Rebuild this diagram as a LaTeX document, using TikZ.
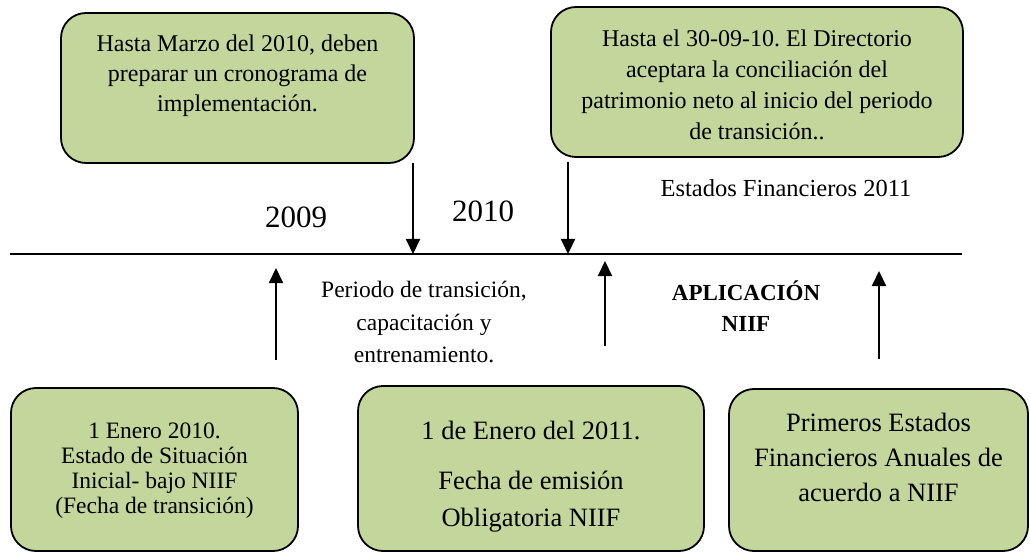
\documentclass[tikz,border=0pt]{standalone}
\usepackage{fontspec}
\setmainfont{Liberation Serif}
\usetikzlibrary{arrows.meta}
\definecolor{boxgreen}{HTML}{C3D69B}
\frenchspacing
\newcommand{\boxtext}[6]{\parbox[c][#2][t]{#1}{\centering\lineskiplimit=-100pt\fontsize{#3}{#4}\selectfont\rule{0pt}{#5}#6}}
\newcommand{\freetext}[4]{\parbox[t]{#1}{\centering\lineskiplimit=-100pt\fontsize{#2}{#3}\selectfont #4}}
\begin{document}
\begin{tikzpicture}[x=1pt,y=-1pt,
  box/.style={draw=black, line width=1.8pt, fill=boxgreen, rounded corners=25pt, inner sep=0pt, outer sep=0pt},
  arr/.style={line width=2pt, -{Triangle[width=14pt,length=15pt]}},
  axis/.style={line width=2pt},
  free/.style={inner sep=0pt, anchor=base}
]
\useasboundingbox (0,0) rectangle (1030,553);

% boxes
\node[box] (b1) at (237.5,88) {\boxtext{353pt}{150pt}{24}{30}{39pt}{Hasta Marzo del 2010, deben\\preparar un cronograma de\\implementación.}};
\node[box] (b2) at (757,82) {\boxtext{412pt}{150pt}{24}{31}{40pt}{Hasta el 30-09-10. El Directorio\\aceptara la conciliación del\\patrimonio neto al inicio del periodo\\de transición..}};
\node[box] (b3) at (154.5,469.5) {\boxtext{287pt}{163pt}{23.5}{25}{50pt}{1 Enero 2010.\\Estado de Situación\\Inicial- bajo NIIF\\(Fecha de transición)}};
\node[box] (b4) at (531,468.5) {\boxtext{346pt}{165pt}{26.5}{37}{53pt}{1 de Enero del 2011.\\[13pt]Fecha de emisión\\Obligatoria NIIF}};
\node[box] (b5) at (878.5,470) {\boxtext{299pt}{162pt}{26.5}{35}{42pt}{Primeros Estados\\Financieros Anuales de\\acuerdo a NIIF}};

% free texts
\node[free] (y2009) at (296,228) {\fontsize{31}{36}\selectfont 2009};
\node[free] (y2010) at (483,222) {\fontsize{31}{36}\selectfont 2010};
\node[free] (ef2011) at (786,197) {\fontsize{24.5}{28}\selectfont Estados Financieros 2011};
\node[free] (periodo) at (424,297) {\freetext{260pt}{23.5}{33}{Periodo de transición,\\capacitación y\\entrenamiento.}};
\node[free] (aplic) at (746,300) {\freetext{200pt}{23}{32}{\bfseries APLICACIÓN\\NIIF}};

% timeline
\coordinate (tl) at (10,254);
\coordinate (tr) at (962,254);
\draw[axis] (tl) -- (tr);

% down arrows
\coordinate (d1s) at (413,163);
\coordinate (d2s) at (568,162);
\draw[arr] (d1s) -- (d1s |- tl);
\draw[arr] (d2s) -- (d2s |- tl);

% up arrows
\coordinate (u1s) at (276,360); \coordinate (u1e) at (276,268);
\coordinate (u2s) at (605,346); \coordinate (u2e) at (605,261);
\coordinate (u3s) at (879,359); \coordinate (u3e) at (879,271);
\draw[arr] (u1s) -- (u1e);
\draw[arr] (u2s) -- (u2e);
\draw[arr] (u3s) -- (u3e);
\end{tikzpicture}
\end{document}
